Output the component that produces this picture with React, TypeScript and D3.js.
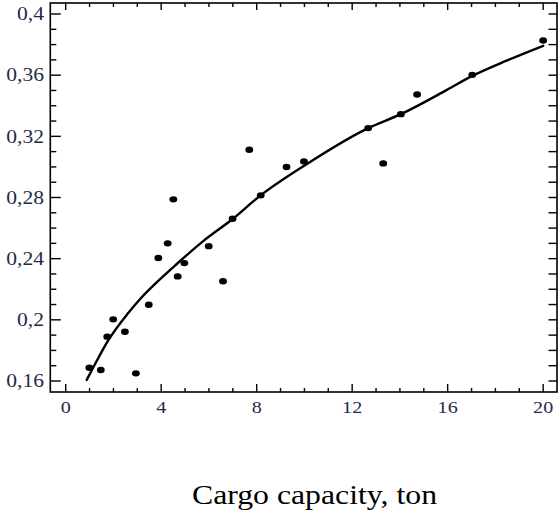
import React from "react";
import * as d3 from "d3";

const pointX = [0.99, 1.47, 1.74, 1.99, 2.48, 2.94, 3.48, 3.88, 4.27, 4.51, 4.69, 4.97, 5.99, 6.59, 6.99, 7.69, 8.17, 9.25, 9.98, 12.67, 13.3, 14.04, 14.72, 17.03, 20.0];
const pointY = [0.1687, 0.1672, 0.189, 0.2003, 0.1922, 0.165, 0.2099, 0.2404, 0.25, 0.2788, 0.2284, 0.2371, 0.2482, 0.2252, 0.2661, 0.3112, 0.2814, 0.2999, 0.3036, 0.3254, 0.3023, 0.3345, 0.3474, 0.3602, 0.3827];

const curveX = [0.88, 1.39, 1.78, 2.62, 3.11, 3.81, 4.65, 5.76, 7.02, 8.09, 10.09, 12.67, 14.04, 15.95, 17.03, 18.47, 20.0];
const curveY = [0.1607, 0.1757, 0.1865, 0.2045, 0.2135, 0.2245, 0.2365, 0.2515, 0.2663, 0.2805, 0.3018, 0.3254, 0.3345, 0.3502, 0.3595, 0.3695, 0.3792];

const xMajorTicks = [0, 4, 8, 12, 16, 20];
const xTickLabels = ["0", "4", "8", "12", "16", "20"];
const yMajorTicks = [0.16, 0.2, 0.24, 0.28, 0.32, 0.36, 0.4];
const yTickLabels = ["0,16", "0,2", "0,24", "0,28", "0,32", "0,36", "0,4"];
const xTitle = "Cargo capacity, ton";

export default function App() {
  const W = 558, H = 513;
  const left = 50.3, right = 557, top = 3, bottom = 392;
  const x = d3.scaleLinear().domain([-0.645, 20.58]).range([left, right]);
  const y = d3.scaleLinear().domain([0.1528, 0.4072]).range([bottom, top]);

  const xMinor = d3.range(0, 21, 1);
  const yMinor = d3.range(16, 41, 1).map((v) => v / 100);
  const isXMajor = (v: number) => xMajorTicks.some((m) => Math.abs(m - v) < 1e-6);
  const isYMajor = (v: number) => yMajorTicks.some((m) => Math.abs(m - v) < 1e-6);

  const line = d3
    .line<number>()
    .x((_, i) => x(curveX[i]))
    .y((d) => y(d))
    .curve(d3.curveMonotoneX);

  const labelColor = "#1f2b48";
  const font = "'Liberation Serif', 'Times New Roman', serif";

  return (
    <svg width={W} height={H} style={{ position: "absolute", left: 0, top: 0, background: "#fff" }}>
      <rect x={0} y={0} width={W} height={H} fill="#fff" />
      <path d={line(curveY) || ""} fill="none" stroke="#000" strokeWidth={2.4} strokeLinecap="round" />
      {pointX.map((px, i) => (
        <ellipse key={i} cx={x(px)} cy={y(pointY[i])} rx={3.9} ry={3.2} fill="#000" />
      ))}
      {xMinor.map((v) => {
        const major = isXMajor(v);
        const len = major ? 8 : 4;
        return (
          <g key={"xt" + v}>
            <line x1={x(v)} x2={x(v)} y1={bottom} y2={bottom - len} stroke="#000" strokeWidth={1.4} />
            <line x1={x(v)} x2={x(v)} y1={top} y2={top + (major ? 7 : 4)} stroke="#000" strokeWidth={1.4} />
          </g>
        );
      })}
      {yMinor.map((v) => {
        const major = isYMajor(v);
        const len = major ? 10.5 : 6;
        return (
          <g key={"yt" + v}>
            <line x1={left} x2={left + len} y1={y(v)} y2={y(v)} stroke="#000" strokeWidth={1.4} />
            <line x1={right} x2={right - 8.5} y1={y(v)} y2={y(v)} stroke="#000" strokeWidth={1.4} />
          </g>
        );
      })}
      <rect x={left} y={top} width={right - left} height={bottom - top} fill="none" stroke="#000" strokeWidth={1.6} />
      {xMajorTicks.map((v, i) => (
        <g key={"xl" + v} transform={`translate(${x(v)},413) scale(1.22,1)`}>
          <text x={0} y={0} textAnchor="middle" fontFamily={font} fontSize={16.5} fill={labelColor}>
            {xTickLabels[i]}
          </text>
        </g>
      ))}
      {yMajorTicks.map((v, i) => (
        <g key={"yl" + v} transform={`translate(44,${y(v)}) scale(1.2,1)`}>
          <text x={0} y={0} dy="0.35em" textAnchor="end" fontFamily={font} fontSize={18} fill={labelColor}>
            {yTickLabels[i]}
          </text>
        </g>
      ))}
      <text x={192} y={504.3} fontFamily={font} fontSize={27.5} fill="#000" textLength={245} lengthAdjust="spacingAndGlyphs">
        {xTitle}
      </text>
    </svg>
  );
}
